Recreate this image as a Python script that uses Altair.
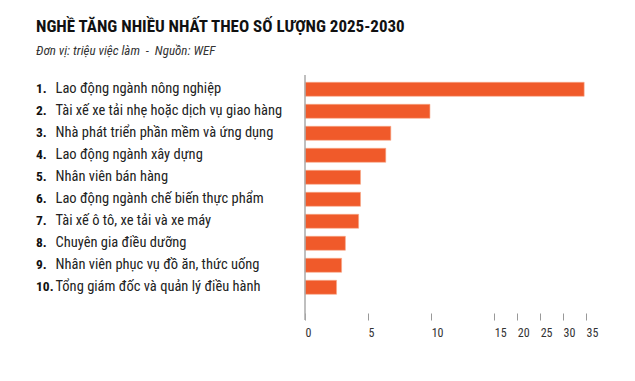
import altair as alt
import pandas as pd

ranks = ["1.", "2.", "3.", "4.", "5.", "6.", "7.", "8.", "9.", "10."]
jobs = [
    "Lao động ngành nông nghiệp",
    "Tài xế xe tải nhẹ hoặc dịch vụ giao hàng",
    "Nhà phát triển phần mềm và ứng dụng",
    "Lao động ngành xây dựng",
    "Nhân viên bán hàng",
    "Lao động ngành chế biến thực phẩm",
    "Tài xế ô tô, xe tải và xe máy",
    "Chuyên gia điều dưỡng",
    "Nhân viên phục vụ đồ ăn, thức uống",
    "Tổng giám đốc và quản lý điều hành",
]
values = [34.6, 9.9, 6.8, 6.4, 4.4, 4.4, 4.25, 3.2, 2.9, 2.5]
tick_values = [0, 5, 10, 15, 20, 25, 30, 35]

FONT = "'Roboto Condensed', 'Liberation Sans Narrow', 'DejaVu Sans Condensed', Roboto, sans-serif"
W, H = 281, 238
NB = "\u00a0"

df = pd.DataFrame({"rank": ranks, "job": jobs, "value": values})

xscale = alt.Scale(domain=[0, 15, 35], range=[0, 189.3, W], clamp=True)
yscale = alt.Scale(domain=jobs, paddingInner=0.364, paddingOuter=0.591, align=0.28)

base = alt.Chart(df)

bars = base.mark_bar(color="#F05A2A", stroke="#F7A98A", strokeWidth=0.6).encode(
    x=alt.X("value:Q", scale=xscale,
            axis=alt.Axis(values=tick_values, domain=False, grid=False, ticks=True,
                          tickSize=7, tickColor="#999999", tickWidth=1,
                          labelAlign="left", labelPadding=7, labelFontSize=12,
                          labelColor="#333333", labelFont=FONT, title=None,
                          labelOverlap=False)),
    y=alt.Y("job:N", scale=yscale, sort=jobs,
            axis=alt.Axis(domain=False, ticks=False, tickSize=0, labelAlign="left",
                          labelPadding=250, labelFontSize=14.5, labelColor="#222222",
                          labelFont=FONT, title=None, labelLimit=300)),
)

nums = base.mark_text(align="left", baseline="middle", fontWeight="bold", fontSize=13.5,
                      color="#111111", font=FONT).encode(
    y=alt.Y("job:N", scale=yscale, sort=jobs),
    x=alt.value(-269),
    text="rank:N",
)

zero = alt.Chart(pd.DataFrame({"z": [0]})).mark_rule(color="#aaaaaa", strokeWidth=1.5).encode(
    x=alt.X("z:Q", scale=xscale),
    y=alt.value(0),
    y2=alt.value(H + 7),
)

chart = alt.layer(bars, nums, zero).properties(
    width=W,
    height=H,
    autosize=alt.AutoSizeParams(type="none"),
    padding={"left": 297, "top": 67, "right": 30, "bottom": 50},
    title=alt.TitleParams(
        text="NGHỀ TĂNG NHIỀU NHẤT THEO SỐ LƯỢNG 2025-2030",
        subtitle=f"Đơn vị: triệu việc làm {NB}-{NB} Nguồn: WEF",
        anchor="start",
        frame="group",
        dx=-269,
        font=FONT,
        fontSize=17,
        fontWeight="bold",
        color="#111111",
        subtitleFont=FONT,
        subtitleFontSize=13,
        subtitleFontStyle="italic",
        subtitleColor="#333333",
        subtitlePadding=9,
        offset=15,
    ),
).configure_view(stroke=None)

chart.save("out.html", embed_options={"renderer": "svg", "actions": False})
